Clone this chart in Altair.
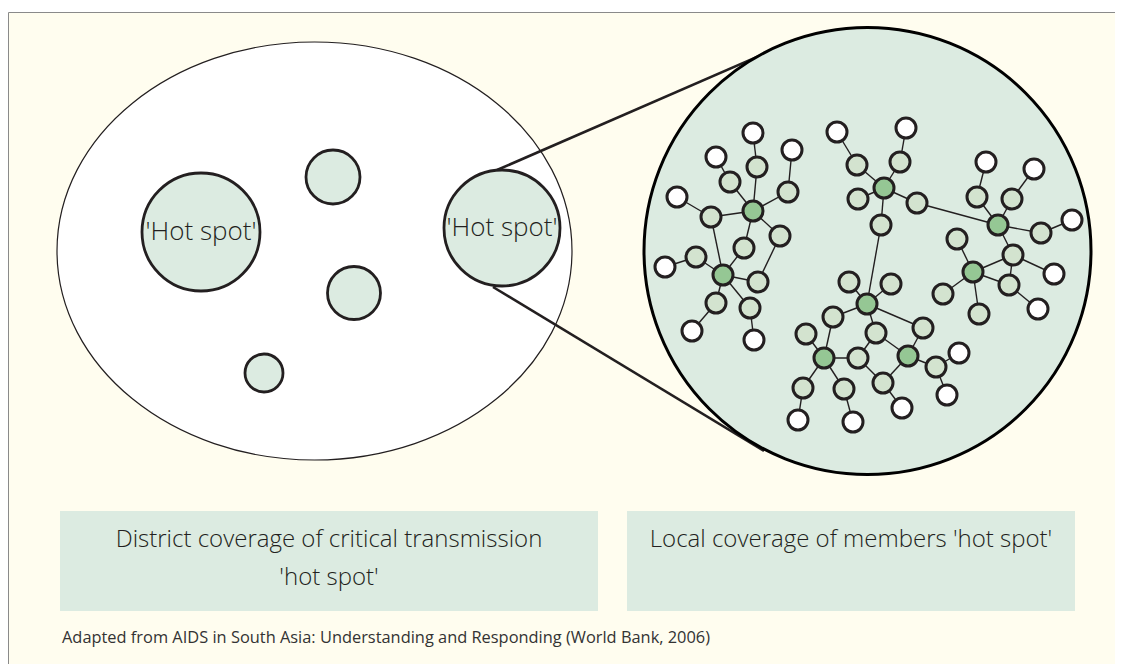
import altair as alt
import pandas as pd

# ---------------- data (diagram coordinates) ----------------
# district ellipse: centre, half-width, half-height
ellipse_cx, ellipse_cy, ellipse_rx, ellipse_ry = 314.5, 251, 257.5, 209

# hot spots inside the district (centre x, centre y, radius)
spot_x = [201, 502, 333, 354, 264]
spot_y = [232, 228, 177, 293, 373]
spot_r = [59, 58, 27, 26.5, 19]
spot_label = ["'Hot spot'", "'Hot spot'", "", "", ""]

# magnified hot spot
zoom_cx, zoom_cy, zoom_r = 867.5, 251, 223.5

# zoom connector lines (start on hot spot, end on magnified circle)
conn_x = [497, 493]
conn_y = [170, 287]
conn_x2 = [798, 764]
conn_y2 = [39, 451]

# network nodes
node_id = ["w1", "w2", "w3", "w4", "w5", "w6", "w7", "w8", "w9", "w10",
           "w11", "w12", "w13", "w14", "w15", "w16", "w17", "w18", "w19",
           "l1", "l2", "l3", "l4", "l5", "l6", "l7", "l8", "l9", "l10",
           "l11", "l12", "l13", "l14", "l15", "l16", "l17", "l18", "l19", "l20",
           "l21", "l22", "l23", "l24", "l25", "l26", "l27", "l28", "l29", "l30",
           "l31", "l32", "l33", "l34",
           "d1", "d2", "d3", "d4", "d5", "d6", "d7", "d8"]
node_x = [753, 716, 792, 677, 665, 692, 754, 837, 906, 986,
          1034, 1072, 1054, 1038, 959, 947, 902, 798, 853,
          757, 730, 788, 711, 780, 744, 696, 758, 716, 750,
          857, 900, 858, 917, 881, 849, 891, 833, 876, 923,
          806, 858, 803, 844, 883, 936, 977, 1012, 1041, 1013,
          957, 943, 979, 1009,
          753, 723, 884, 867, 824, 908, 998, 973]
node_y = [133, 157, 150, 197, 267, 331, 340, 132, 128, 162,
          169, 220, 274, 309, 353, 395, 408, 420, 422,
          167, 182, 192, 217, 236, 248, 257, 282, 303, 308,
          165, 162, 199, 203, 225, 282, 284, 317, 333, 328,
          334, 358, 388, 389, 383, 367, 197, 199, 233, 255,
          239, 294, 314, 285,
          211, 275, 188, 304, 358, 356, 225, 272]
node_kind = (["outer"] * 19) + (["member"] * 34) + (["core"] * 8)

edge_from = ["d1", "d1", "d1", "d1", "d1", "d1", "l1", "l2", "l3", "l4",
             "l4", "l6", "l5", "d2", "d2", "d2", "d2", "l7", "l9", "l10",
             "d3", "d3", "d3", "d3", "d3", "l11", "l12", "l14", "l15",
             "d4", "d4", "d4", "d4", "d4", "l18", "l19", "l20", "l19",
             "d5", "d5", "d5", "d5", "l23", "l24",
             "d6", "d6", "l22", "l25", "l26", "l26",
             "d7", "d7", "d7", "d7", "l27", "l28", "l29",
             "l30", "l30", "l30", "d8", "d8", "d8", "d8", "l34"]
edge_to = ["l1", "l2", "l3", "l4", "l5", "l6", "w1", "w2", "w3", "w4",
           "d2", "d2", "l8", "l7", "l8", "l9", "l10", "w5", "w6", "w7",
           "l11", "l12", "l13", "l14", "l15", "w8", "w9", "d7", "d4",
           "l16", "l17", "l18", "l19", "l20", "d5", "l22", "d6", "d6",
           "l21", "l22", "l23", "l24", "w18", "w19",
           "l25", "l26", "l25", "w17", "w15", "w16",
           "l27", "l28", "l29", "l30", "w10", "w11", "w12",
           "d8", "w13", "l34", "l31", "l32", "l33", "l34", "w14"]

# caption boxes (left, top, right, bottom) and their texts
box_x = [60, 627]
box_y = [511, 511]
box_x2 = [598, 1075]
box_y2 = [611, 611]
box_text = ["District coverage of critical transmission", "'hot spot'",
            "Local coverage of members 'hot spot'"]
box_text_x = [329, 329, 851]
box_text_y = [540, 578, 540]

source_text = "Adapted from AIDS in South Asia: Understanding and Responding (World Bank, 2006)"
source_x, source_y = 62, 638

# frame of the figure
frame_x, frame_y, frame_x2, frame_y2 = 8.5, 12.5, 1140, 690

# ---------------- styling ----------------
INK = "#231F20"
CREAM = "#FFFDEF"
PALE = "#DCEBE1"
MEMBER = "#D3E3CF"
CORE = "#95C794"
FONT = "Open Sans"

W, H = 1107, 656
X = alt.X("x:Q", scale=alt.Scale(domain=[8, 8 + W]), axis=None)
Y = alt.Y("y:Q", scale=alt.Scale(domain=[8, 8 + H], reverse=True), axis=None)
X2 = alt.X2("x2:Q")
Y2 = alt.Y2("y2:Q")

frame_df = pd.DataFrame({"x": [frame_x], "y": [frame_y], "x2": [frame_x2], "y2": [frame_y2]})
frame = alt.Chart(frame_df).mark_rect(fill=CREAM, stroke="#8A8A8A", strokeWidth=1).encode(
    x=X, y=Y, x2=X2, y2=Y2)

ratio = ellipse_ry / ellipse_rx
ell_path = f"M-1,0 A1,{ratio:.4f} 0 1,0 1,0 A1,{ratio:.4f} 0 1,0 -1,0 Z"
ell_df = pd.DataFrame({"x": [ellipse_cx], "y": [ellipse_cy]})
ellipse = alt.Chart(ell_df).mark_point(
    shape=ell_path, filled=True, fill="white", stroke=INK, strokeWidth=1.2, opacity=1
).encode(x=X, y=Y, size=alt.value((2 * ellipse_rx) ** 2))

conn_df = pd.DataFrame({"x": conn_x, "y": conn_y, "x2": conn_x2, "y2": conn_y2})
connectors = alt.Chart(conn_df).mark_rule(color=INK, strokeWidth=2.6).encode(
    x=X, y=Y, x2=X2, y2=Y2)

zoom_df = pd.DataFrame({"x": [zoom_cx], "y": [zoom_cy]})
zoom = alt.Chart(zoom_df).mark_point(
    shape="circle", filled=True, fill=PALE, stroke="black", strokeWidth=3, opacity=1
).encode(x=X, y=Y, size=alt.value((2 * zoom_r) ** 2))

spot_df = pd.DataFrame({"x": spot_x, "y": spot_y, "r": spot_r, "label": spot_label})
spot_df["s"] = (2 * spot_df["r"]) ** 2
spots = alt.Chart(spot_df).mark_point(
    shape="circle", filled=True, fill=PALE, stroke=INK, strokeWidth=2.8, opacity=1
).encode(x=X, y=Y, size=alt.Size("s:Q", scale=None, legend=None))
spot_labels = alt.Chart(spot_df).mark_text(
    font=FONT, fontSize=26, fontWeight=300, color=INK, align="center", baseline="middle"
).encode(x=X, y=Y, text="label:N")

pos = {n: (x, y) for n, x, y in zip(node_id, node_x, node_y)}
edge_df = pd.DataFrame({
    "x": [pos[a][0] for a in edge_from], "y": [pos[a][1] for a in edge_from],
    "x2": [pos[b][0] for b in edge_to], "y2": [pos[b][1] for b in edge_to],
})
edges = alt.Chart(edge_df).mark_rule(color=INK, strokeWidth=1.4).encode(
    x=X, y=Y, x2=X2, y2=Y2)

node_df = pd.DataFrame({"x": node_x, "y": node_y, "kind": node_kind})
nodes = alt.Chart(node_df).mark_point(
    shape="circle", filled=True, stroke=INK, strokeWidth=3, opacity=1, size=400
).encode(
    x=X, y=Y,
    fill=alt.Fill("kind:N", scale=alt.Scale(domain=["outer", "member", "core"],
                                             range=["#FFFFFF", MEMBER, CORE]), legend=None),
)

box_df = pd.DataFrame({"x": box_x, "y": box_y, "x2": box_x2, "y2": box_y2})
boxes = alt.Chart(box_df).mark_rect(fill=PALE).encode(x=X, y=Y, x2=X2, y2=Y2)

bt_df = pd.DataFrame({"x": box_text_x, "y": box_text_y, "t": box_text})
box_texts = alt.Chart(bt_df).mark_text(
    font=FONT, fontSize=24, fontWeight=300, color=INK, align="center", baseline="middle"
).encode(x=X, y=Y, text="t:N")

src_df = pd.DataFrame({"x": [source_x], "y": [source_y], "t": [source_text]})
source = alt.Chart(src_df).mark_text(
    font=FONT, fontSize=16.4, color="#333333", align="left", baseline="middle"
).encode(x=X, y=Y, text="t:N")

chart = alt.layer(
    frame, ellipse, connectors, zoom, spots, spot_labels, edges, nodes,
    boxes, box_texts, source
).properties(
    width=W, height=H, padding=0, autosize=alt.AutoSizeParams(type="none"),
    background="white"
).configure_view(stroke=None)

chart.save("out.html", embed_options={"renderer": "svg", "actions": False})
